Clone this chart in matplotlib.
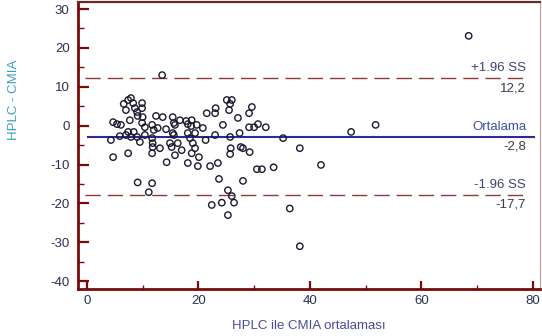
import matplotlib
matplotlib.use("Agg")
import matplotlib.pyplot as plt
from matplotlib.ticker import MultipleLocator

# Bland-Altman: ortalama (x) ve fark (y)
ortalama = [4.3, 4.7, 5.4, 6.1, 4.7, 6.6, 7.0, 7.4, 7.9, 8.3, 8.6, 9.0, 9.1, 9.9, 9.9,
            10.0, 9.9, 10.4, 7.0, 7.4, 7.9, 8.4, 9.0, 9.5, 7.4, 12.4, 13.6, 15.4, 15.8,
            11.7, 12.0, 12.7, 14.2, 11.7, 11.8, 11.8, 11.7, 14.3, 14.9, 15.2, 15.8, 15.6,
            9.1, 11.7, 11.1, 13.5, 5.9, 7.7, 17.8, 18.1, 18.8, 18.7, 19.7, 18.1, 19.4,
            18.5, 19.0, 16.3, 15.6, 15.4, 18.8, 19.4, 20.1, 18.1, 19.9, 21.5, 23.0, 23.1,
            25.1, 25.7, 26.0, 24.4, 23.0, 25.7, 25.8, 25.7, 27.6, 29.2, 27.1, 29.1, 29.6,
            29.1, 30.0, 30.7, 32.1, 27.4, 22.1, 23.5, 23.7, 25.3, 26.0, 26.4, 24.2, 22.4,
            25.3, 28.0, 30.5, 31.4, 33.5, 35.2, 38.2, 42.0, 36.4, 38.2, 47.4, 51.8, 68.5,
            25.5, 20.8, 16.7, 17.0, 13.1, 10.4, 21.3, 28.0]
fark = [-3.7, 0.9, 0.4, 0.2, -8.1, 5.6, 4.0, 6.6, 7.1, 5.8, 4.5, 3.5, 2.5, 5.8, 4.5,
        2.2, 0.7, -0.4, -2.4, -1.6, -2.9, -1.6, -2.9, -4.2, -7.1, 2.5, 2.2, 2.2, 0.2,
        0.2, -1.1, -0.6, -0.9, -3.2, -4.5, -5.5, -7.1, -9.4, -4.5, -5.5, -7.6, -2.4,
        -14.6, -14.8, -17.1, 13.0, -2.7, 1.4, 1.2, 0.4, 1.4, -0.1, 0.2, -1.9, -1.9,
        -3.2, -4.5, -4.5, 0.7, -1.9, -7.1, -5.8, -8.1, -9.6, -10.4, 3.2, 3.2, 4.5,
        6.6, 5.6, 6.6, 0.2, -2.4, -2.9, -5.8, -7.3, -5.5, -6.8, 2.0, 3.2, 4.8,
        -0.4, -0.4, 0.4, -0.4, -1.9, -10.4, -9.6, -13.7, -16.6, -18.1, -19.8, -19.8, -20.4,
        -23.0, -14.2, -11.2, -11.2, -10.7, -3.2, -5.8, -10.1, -21.3, -31.0, -1.6, 0.2, 23.1,
        4.0, -0.6, 1.4, -6.3, -5.8, -2.4, -3.7, -5.8]

ust_sinir = 12.2
ort_fark = -2.8
alt_sinir = -17.7

plt.rcParams['font.family'] = ['Liberation Sans', 'DejaVu Sans']
plt.rcParams['axes.unicode_minus'] = False

koyu_kirmizi = '#7a0a0a'

fig = plt.figure(figsize=(5.42, 3.36), dpi=100)
ax = fig.add_axes([78 / 542, 1 - 289 / 336, 462 / 542, 287 / 336])

ax.scatter(ortalama, fark, s=21, facecolors='none', edgecolors='#1a1a30', linewidths=1.0, zorder=3)

# ortalama ve +/-1.96 SS cizgileri
ax.plot([0.2, 80.3], [ort_fark, ort_fark], color='#2a2a9a', lw=1.5, zorder=2)
ax.plot([-0.3, 78.8], [ust_sinir, ust_sinir], color='#8b3a3a', lw=1.0, dashes=(11, 5), zorder=2)
ax.plot([-0.3, 78.8], [alt_sinir, alt_sinir], color='#8b3a3a', lw=1.0, dashes=(11, 5), zorder=2)

etiket_x = 78.8
ax.text(etiket_x, ust_sinir + 1.0, '+1.96 SS', ha='right', va='bottom', fontsize=9.5, color='#3c4470')
ax.text(etiket_x, ust_sinir - 1.0, '12,2', ha='right', va='top', fontsize=9.5, color='#3a3a4a')
ax.text(etiket_x, ort_fark + 1.0, 'Ortalama', ha='right', va='bottom', fontsize=9.5, color='#3a52a8')
ax.text(etiket_x, ort_fark - 1.0, '-2,8', ha='right', va='top', fontsize=9.5, color='#3a3a4a')
ax.text(etiket_x, alt_sinir + 1.0, '-1.96 SS', ha='right', va='bottom', fontsize=9.5, color='#3c4470')
ax.text(etiket_x, alt_sinir - 1.0, '-17,7', ha='right', va='top', fontsize=9.5, color='#3a3a4a')

ax.set_xlim(-1.6, 81.3)
ax.set_ylim(-42.0, 31.8)
ax.xaxis.set_major_locator(MultipleLocator(20))
ax.xaxis.set_minor_locator(MultipleLocator(10))
ax.yaxis.set_major_locator(MultipleLocator(10))
ax.yaxis.set_minor_locator(MultipleLocator(5))

ax.tick_params(axis='y', which='major', direction='in', length=8, width=1.6, color=koyu_kirmizi,
               labelsize=9.5, labelcolor='#2e2e50', pad=6)
ax.tick_params(axis='y', which='minor', direction='in', length=4, width=1.0, color=koyu_kirmizi)
ax.tick_params(axis='x', which='major', direction='in', length=6, width=1.6, color=koyu_kirmizi,
               labelsize=9.5, labelcolor='#2e2e50', pad=4)
ax.tick_params(axis='x', which='minor', direction='in', length=3, width=1.0, color=koyu_kirmizi)

for yer in ['left', 'bottom']:
    ax.spines[yer].set_color(koyu_kirmizi)
    ax.spines[yer].set_linewidth(2.0)
ax.spines['top'].set_color('#6a2a2a')
ax.spines['top'].set_linewidth(1.6)
ax.spines['right'].set_color('#c09a9a')
ax.spines['right'].set_linewidth(0.8)

ax.set_xlabel('HPLC ile CMIA ortalaması', fontsize=9.5, color='#4a4a9a', labelpad=10)
ax.set_ylabel('HPLC - CMIA', fontsize=9.5, color='#3aa0c0')
ax.yaxis.set_label_coords(-0.125, 0.66)

fig.savefig('out.png', dpi=100)
